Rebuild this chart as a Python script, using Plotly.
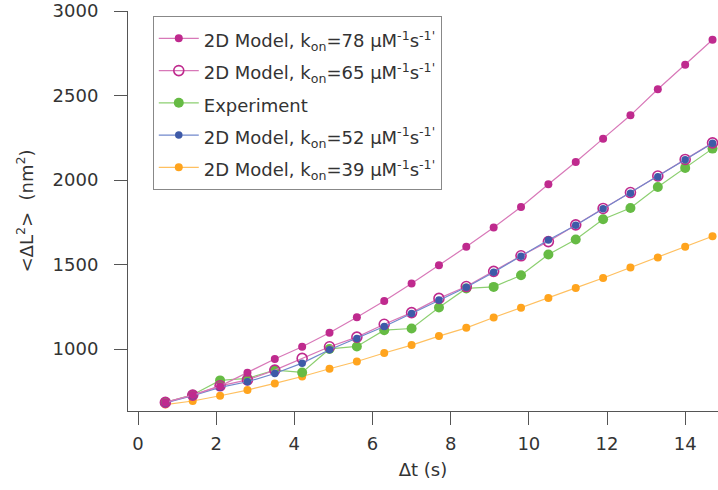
import plotly.graph_objects as go

t = [0.7, 1.4, 2.1, 2.8, 3.5, 4.2, 4.9, 5.6, 6.3, 7.0, 7.7, 8.4, 9.1, 9.8,
     10.5, 11.2, 11.9, 12.6, 13.3, 14.0, 14.7]

k78 = [685, 728, 781, 860, 942, 1014, 1097, 1189, 1284, 1388, 1496, 1605, 1719,
       1841, 1975, 2107, 2245, 2383, 2537, 2682, 2830]
k65 = [685, 728, 783, 818, 876, 945, 1014, 1071, 1147, 1216, 1300, 1370, 1460,
       1552, 1636, 1735, 1832, 1926, 2024, 2122, 2220]
exp = [685, 730, 815, 827, 876, 862, 1001, 1016, 1112, 1122, 1246, 1359, 1368,
       1437, 1560, 1648, 1768, 1835, 1959, 2072, 2186]
k52 = [682, 724, 774, 807, 856, 917, 996, 1063, 1134, 1211, 1290, 1366, 1455,
       1550, 1646, 1733, 1830, 1922, 2020, 2120, 2218]
k39 = [672, 693, 724, 758, 797, 838, 884, 927, 977, 1024, 1077, 1126, 1187,
       1244, 1303, 1362, 1421, 1483, 1542, 1605, 1668]

def lab(s):
    return '<span style="font-size:18px">' + s + '</span>'

names = {
    "k78": lab("2D Model, k<sub>on</sub>=78 μM<sup>-1</sup>s<sup>-1'</sup>"),
    "k65": lab("2D Model, k<sub>on</sub>=65 μM<sup>-1</sup>s<sup>-1'</sup>"),
    "exp": lab("Experiment"),
    "k52": lab("2D Model, k<sub>on</sub>=52 μM<sup>-1</sup>s<sup>-1'</sup>"),
    "k39": lab("2D Model, k<sub>on</sub>=39 μM<sup>-1</sup>s<sup>-1'</sup>"),
}

MAG = "#bf2a8e"
GRN = "#66bb44"
BLU = "#3e5aa8"
ORG = "#ffa41e"

fig = go.Figure()

fig.add_trace(go.Scatter(x=t, y=k39, name=names["k39"], mode="lines+markers",
                         line=dict(color="#ffc060", width=1.2),
                         marker=dict(color=ORG, size=8), legendrank=5))
fig.add_trace(go.Scatter(x=t, y=exp, name=names["exp"], mode="lines+markers",
                         line=dict(color="#8ccf70", width=1.2),
                         marker=dict(color=GRN, size=10), legendrank=3))
fig.add_trace(go.Scatter(x=t, y=k65, name=names["k65"], mode="lines+markers",
                         line=dict(color="#d878b8", width=1.2),
                         marker=dict(color=MAG, size=10, symbol="circle-open",
                                     line=dict(width=1.6, color=MAG)), legendrank=2))
fig.add_trace(go.Scatter(x=t, y=k52, name=names["k52"], mode="lines+markers",
                         line=dict(color="#7088cc", width=1.2),
                         marker=dict(color=BLU, size=7.5), legendrank=4))
fig.add_trace(go.Scatter(x=t, y=k78, name=names["k78"], mode="lines+markers",
                         line=dict(color="#d878b8", width=1.2),
                         marker=dict(color=MAG, size=8), legendrank=1))

FONT = "DejaVu Sans"
axis_common = dict(showline=True, linecolor="#555555", linewidth=1,
                   ticks="outside", ticklen=13, tickcolor="#555555", tickwidth=1,
                   showgrid=False, zeroline=False, ticklabeloverflow="allow",
                   tickfont=dict(family=FONT, size=18, color="#333333"))

fig.update_layout(
    width=718, height=490,
    margin=dict(l=128, r=0, t=11, b=79, autoexpand=False),
    paper_bgcolor="white", plot_bgcolor="white",
    font=dict(family=FONT, size=18, color="#333333"),
    showlegend=True,
    legend=dict(x=0.042, y=0.987, xanchor="left", yanchor="top",
                bgcolor="white", bordercolor="#888888", borderwidth=1,
                font=dict(family=FONT, size=22.5, color="#333333"),
                itemwidth=40, tracegroupgap=0),
    xaxis=dict(range=[-0.256, 14.84], tickvals=[0, 2, 4, 6, 8, 10, 12, 14],
               ticklabelstandoff=3,
               title=dict(text="Δt (s)", standoff=10,
                          font=dict(family=FONT, size=18, color="#333333")),
               **axis_common),
    yaxis=dict(range=[634, 3000], tickvals=[1000, 1500, 2000, 2500, 3000],
               ticklabelstandoff=12,
               title=dict(text="<ΔL<sup>2</sup>>  (nm<sup>2</sup>)", standoff=14,
                          font=dict(family=FONT, size=18, color="#333333")),
               **axis_common),
)

fig.write_html("out.html",
               config={"displayModeBar": False},
               post_script="document.body.style.margin='0';document.body.style.overflow='hidden';")
